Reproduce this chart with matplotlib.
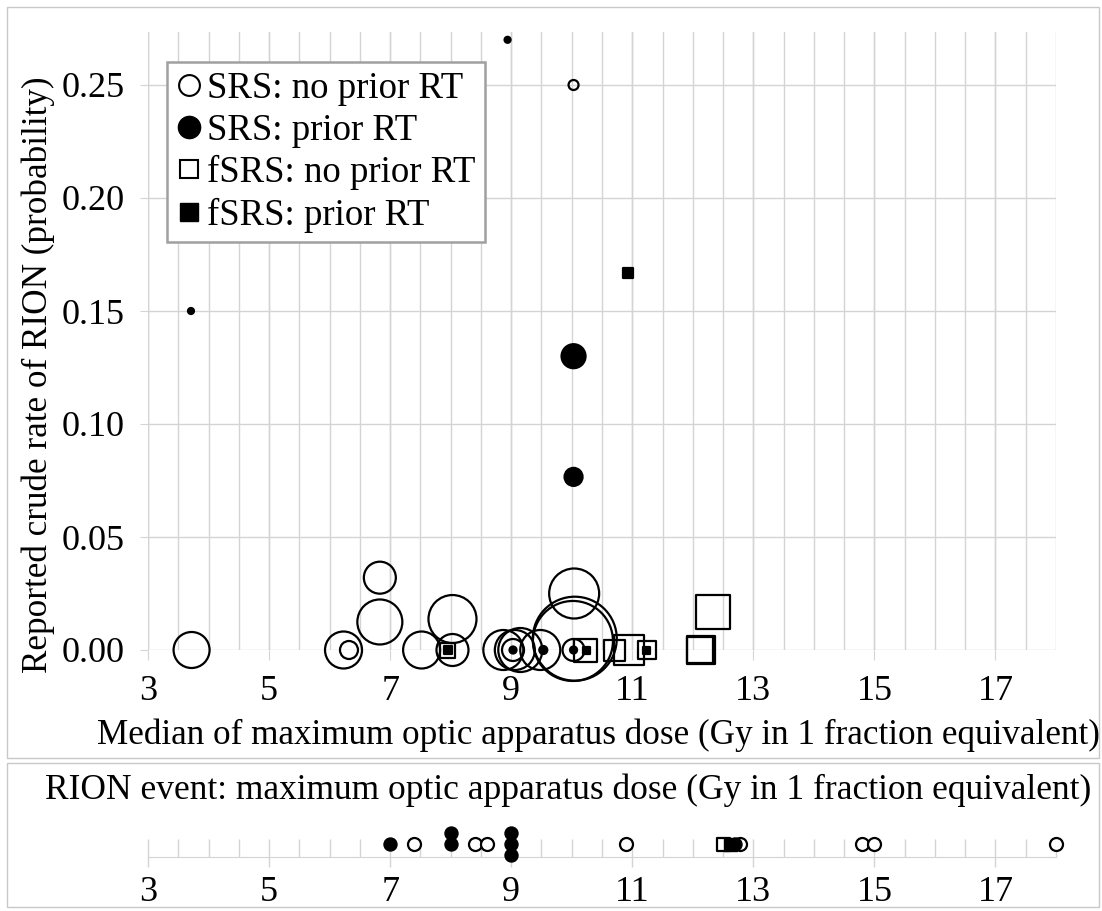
import numpy as np
import matplotlib
matplotlib.use('Agg')
import matplotlib.pyplot as plt
from matplotlib.lines import Line2D
from matplotlib.patches import Rectangle

plt.rcParams['font.family'] = ['Liberation Serif', 'DejaVu Serif']

# ---- main bubble chart data (x = median max optic dose, y = crude RION rate, d = bubble size) ----
srs_open_x = [3.72, 6.23, 6.32, 6.83, 6.83, 7.52, 8.03, 8.03, 8.87, 9.03, 9.06, 9.15, 9.48, 10.03, 10.04, 10.05, 10.02, 10.03]
srs_open_y = [0.0, 0.0, 0.0, 0.032, 0.0124, 0.0, 0.0137, 0.0, 0.0, 0.0, 0.0, 0.0, 0.0, 0.0, 0.025, 0.005, 0.004, 0.25]
srs_open_d = [36, 37, 18, 32, 45, 37, 48, 32, 40, 22, 40, 44, 40, 22, 50, 84, 80, 10]

srs_fill_x = [3.71, 8.94, 9.03, 9.53, 10.03, 10.03, 10.03]
srs_fill_y = [0.15, 0.27, 0.0, 0.0, 0.0, 0.130, 0.0766]
srs_fill_d = [6, 6, 7, 8, 7, 24, 18]

fsrs_open_x = [7.95, 10.23, 10.71, 10.94, 11.24, 12.14, 12.12, 12.34]
fsrs_open_y = [0.0, 0.0, 0.0, 0.0, 0.0, 0.0, 0.0, 0.017]
fsrs_open_d = [15, 23, 21, 30, 18, 28, 26, 34]

fsrs_fill_x = [7.95, 10.25, 11.24, 10.93]
fsrs_fill_y = [0.0, 0.0, 0.0, 0.167]
fsrs_fill_d = [8, 7, 7, 10]

# ---- RION events strip ----
ev_srs_open = [7.4, 8.4, 8.6, 10.9, 12.78, 14.8, 15.0, 18.0]
ev_srs_fill = [7.0, 8.0, 8.0, 9.0, 9.0, 9.0, 12.7]
ev_fsrs_open = [12.5]
ev_fsrs_fill = [12.62]

legend_labels = ['SRS: no prior RT', 'SRS: prior RT', 'fSRS: no prior RT', 'fSRS: prior RT']
x_ticks = [3, 5, 7, 9, 11, 13, 15, 17]
y_ticks = [0.0, 0.05, 0.10, 0.15, 0.20, 0.25]

W, H = 1102, 911
PX = 0.72  # points per pixel at dpi 100
GRID = '#d4d4d4'
FS = 26


def fx(px):
    return px / W


def fy(py):
    return 1 - py / H


def bubbles(ax, x, y, d, marker, filled, lw=1.6):
    s = [(v * PX) ** 2 for v in d]
    ax.scatter(x, y, s=s, marker=marker,
               facecolors='black' if filled else 'none',
               edgecolors='black', linewidths=lw, clip_on=False, zorder=3)


def stack_levels(xs):
    order = [0, 1, -1, 2, -2]
    seen = {}
    out = []
    for v in xs:
        k = seen.get(v, 0)
        out.append(order[k])
        seen[v] = k + 1
    return out


fig = plt.figure(figsize=(11.02, 9.11), dpi=100)

# panel frames
for top, bot in [(7, 758), (763, 907)]:
    fig.patches.append(Rectangle((fx(7), fy(bot)), fx(1099) - fx(7), (bot - top) / H,
                                 transform=fig.transFigure, fill=False,
                                 ec='#c8c8c8', lw=1))

ax = fig.add_axes([fx(148), fy(650), fx(1056) - fx(148), (650 - 32) / H])
ax.set_xlim(3, 18)
ax.set_ylim(0, (650 - 32) / 2260)
ax.set_xticks(x_ticks)
ax.set_xticks(np.arange(3, 18.01, 0.5), minor=True)
ax.set_yticks(y_ticks)
ax.set_yticklabels(['%.2f' % v for v in y_ticks])
ax.xaxis.remove_overlapping_locs = False
ax.grid(which='both', axis='x', color=GRID, lw=1)
ax.grid(which='major', axis='y', color=GRID, lw=1)
ax.set_axisbelow(True)
for sp in ax.spines.values():
    sp.set_visible(False)
ax.tick_params(axis='x', which='major', length=7, color=GRID, labelsize=FS, pad=11)
ax.tick_params(axis='x', which='minor', length=0)
ax.tick_params(axis='y', length=6, color=GRID, labelsize=FS, pad=11)

bubbles(ax, srs_open_x, srs_open_y, srs_open_d, 'o', False)
bubbles(ax, fsrs_open_x, fsrs_open_y, fsrs_open_d, 's', False)
bubbles(ax, srs_fill_x, srs_fill_y, srs_fill_d, 'o', True)
bubbles(ax, fsrs_fill_x, fsrs_fill_y, fsrs_fill_d, 's', True)

handles = [
    Line2D([], [], marker='o', ls='none', mfc='none', mec='black', ms=15, mew=1.5),
    Line2D([], [], marker='o', ls='none', mfc='black', mec='black', ms=16),
    Line2D([], [], marker='s', ls='none', mfc='none', mec='black', ms=13, mew=1.5),
    Line2D([], [], marker='s', ls='none', mfc='black', mec='black', ms=13),
]
leg = ax.legend(handles, legend_labels, loc='upper left',
                bbox_to_anchor=(fx(167), fy(62)), bbox_transform=fig.transFigure,
                borderaxespad=0, fancybox=False, framealpha=1, edgecolor='#a0a0a0',
                fontsize=26.5, handlelength=0.7, handletextpad=0.15,
                labelspacing=0.2, borderpad=0.25)
leg.get_frame().set_linewidth(1.8)

fig.text(fx(38), fy(375), 'Reported crude rate of RION (probability)',
         rotation=90, ha='center', va='center', fontsize=25.3)
fig.text(fx(598), fy(735),
         'Median of maximum optic apparatus dose (Gy in 1 fraction equivalent)',
         ha='center', va='center', fontsize=25.3)

# ---- bottom strip of events ----
ax2 = fig.add_axes([fx(148), fy(857), fx(1056) - fx(148), 37 / H])
ax2.set_xlim(3, 18)
ax2.set_ylim(-13 / 11, 24 / 11)
ax2.set_yticks([])
ax2.set_xticks(x_ticks)
ax2.set_xticks(np.arange(3, 18.01, 0.5), minor=True)
ax2.xaxis.remove_overlapping_locs = False
for name, sp in ax2.spines.items():
    sp.set_visible(name == 'bottom')
ax2.spines['bottom'].set_color(GRID)
ax2.patch.set_alpha(0)
ax2.tick_params(axis='x', which='major', direction='out', length=7, color=GRID,
                width=1, labelsize=FS, pad=7)
ax2.tick_params(axis='x', which='minor', direction='in', length=13, color=GRID, width=1)

ev_d = 13
ax2.scatter(ev_srs_open, stack_levels(ev_srs_open), s=(ev_d * PX) ** 2, marker='o',
            facecolors='white', edgecolors='black', linewidths=1.6, clip_on=False, zorder=3)
ax2.scatter(ev_fsrs_open, stack_levels(ev_fsrs_open), s=(ev_d * PX) ** 2, marker='s',
            facecolors='white', edgecolors='black', linewidths=1.6, clip_on=False, zorder=3)
ax2.scatter(ev_srs_fill, stack_levels(ev_srs_fill), s=(ev_d * PX) ** 2, marker='o',
            facecolors='black', edgecolors='black', clip_on=False, zorder=4)
ax2.scatter(ev_fsrs_fill, stack_levels(ev_fsrs_fill), s=(ev_d * PX) ** 2, marker='s',
            facecolors='black', edgecolors='black', clip_on=False, zorder=4)

fig.text(fx(568), fy(790),
         'RION event: maximum optic apparatus dose (Gy in 1 fraction equivalent)',
         ha='center', va='center', fontsize=25.5)

fig.savefig('out.png', dpi=100)
